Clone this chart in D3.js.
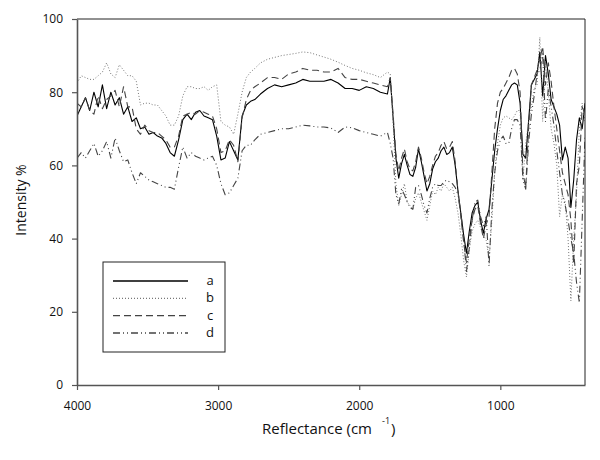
<!DOCTYPE html>
<html>
<head>
<meta charset="utf-8">
<script src="https://cdn.jsdelivr.net/npm/d3@7"></script>
<style>
  body { margin: 0; background: #fff; }
  text { font-family: "Open Sans", sans-serif; }
</style>
</head>
<body>
<svg width="600" height="460"></svg>
<script>
// wavenumbers (cm-1), shared by all four spectra
const wavenumbers = [
  4000, 3970, 3940, 3910, 3880, 3850, 3820, 3790, 3760, 3730,
  3700, 3670, 3640, 3610, 3580, 3550, 3520, 3490, 3460, 3430,
  3400, 3370, 3340, 3310, 3280, 3250, 3220, 3190, 3160, 3130,
  3100, 3070, 3040, 3010, 2980, 2950, 2920, 2890, 2860, 2830,
  2800, 2770, 2740,
  2700, 2650, 2600, 2550, 2500, 2450, 2400, 2350, 2300, 2250,
  2200, 2150, 2100, 2050, 2000, 1950, 1900, 1850, 1800,
  1780, 1760, 1740, 1720, 1700, 1680, 1660, 1640, 1620, 1600,
  1580, 1560, 1540, 1520, 1500, 1480, 1460, 1440, 1420, 1400,
  1380, 1360, 1340, 1320, 1300, 1280, 1260, 1240, 1220, 1200,
  1180, 1160, 1140, 1120, 1100, 1080, 1060, 1040, 1020, 1000,
  980, 960, 940, 920, 900, 880, 860, 840, 820, 800,
  780, 760, 740, 720, 700, 680, 660, 640, 620, 600,
  580, 560, 540, 520, 500, 480, 460, 440, 420, 400
];

const seriesA = [
  73.5, 76, 78.5, 75, 80, 76, 82, 75.5, 80, 76.5,
  78.5, 74, 76, 72, 73, 70, 70.5, 68.5, 69, 68,
  67.5, 66, 63.5, 62.5, 67, 72.5, 74, 72.5, 74.5, 75,
  73.5, 73, 72.5, 68, 61.5, 62, 66.5, 64, 61.5, 73.5,
  76.5, 77.5, 78,
  79.5, 81, 82, 81.5, 82, 82.5, 83.5, 83, 83, 83,
  83.5, 82.5, 81, 81, 80.5, 81.5, 81, 80, 79.5,
  84, 73, 62, 56.5, 60.5, 63, 60, 57.5, 57, 59.5,
  64.5, 61, 57, 53, 55, 59, 61, 62, 64, 65,
  63, 63.5, 65, 60, 53, 47, 41, 36, 42, 47,
  49, 50, 45, 41.5, 45.5, 48, 56, 64, 70, 75,
  78, 79, 80.5, 82, 82.5, 82, 77, 63, 62, 72,
  82, 83.5, 85, 91, 79, 90, 85, 78, 76, 74,
  71, 61.5, 65, 62, 48.5, 56, 67, 73, 70, 77
];

const seriesB = [
  82.5, 84.5, 84, 83.5, 83.5, 84.5, 85.5, 88, 85, 84,
  87.5, 86, 84.5, 84.5, 83, 76.5, 77, 77, 76.5, 76.5,
  75, 73.5, 71, 71, 73.5, 79, 81.5, 81.5, 81, 81,
  81.5, 80.5, 81.5, 82, 72, 71, 70.5, 68.5, 74, 80,
  84, 85.5, 86.5,
  88, 89, 89.5, 90, 90.3, 90.6, 91, 90.8, 90.2, 89.6,
  89, 88.2, 87.3, 86.5, 86, 85.3, 84.8, 84, 85.5,
  85, 72, 55, 49, 52, 55, 50, 49, 48, 51,
  52.5, 50, 47.5, 45, 49, 53, 52, 54, 53, 55,
  54, 53, 54, 51, 47, 41, 34, 29.5, 37, 42,
  44, 45, 43, 41, 39.5, 34.5, 45, 58, 66, 71,
  73, 73.5, 73, 72.5, 73.5, 75, 75, 56, 66, 72,
  76, 81, 82, 95, 72, 88.5, 80, 70, 66, 60,
  46, 52, 50, 40, 23, 40, 52, 70, 77, 72
];

const seriesC = [
  77, 76, 78.5, 75, 74, 79, 75.5, 78, 79, 80.5,
  76, 81.5, 76, 76, 70, 68.5, 71, 69.5, 69, 69,
  68, 67, 65, 65, 68, 73.5, 74, 74.5, 74, 75,
  74.5, 74, 73.5, 70, 63.5, 64, 67, 65.5, 61, 73,
  78, 80.5, 81.5,
  82.5, 84, 84, 83.5, 85, 85.5, 86.5, 86, 86, 85.5,
  85.5, 86.5, 84, 83.5, 83.5, 83, 82.5, 82, 81.5,
  84, 74, 63, 58.5, 62, 64.5, 61, 59, 58.5, 61,
  65, 62, 58, 55, 57, 60, 62.5, 63.5, 65.5, 66.5,
  64.5, 65, 66.5, 61, 53, 46, 39, 33.5, 40, 45,
  48, 49, 44, 40, 44, 46, 58, 70, 77, 80,
  81, 82.5, 84, 86, 86.5, 85, 80, 58, 54, 70,
  82, 84, 86, 89, 92.5, 82, 88, 83, 76, 70,
  64, 58, 55, 52, 45, 33, 55, 60, 76, 74
];

const seriesD = [
  62, 63.5, 62, 64, 66, 62.5, 64, 66.5, 62, 67.5,
  64, 61, 61.5, 58, 55, 58, 57, 56, 55.5, 55,
  54.5, 54, 54, 53.5, 59.5, 65, 62, 63.5, 62.5, 62,
  61.5, 62, 62.5, 60, 55, 52, 52.5, 54.5, 56.5, 64,
  65.5, 65.5, 67,
  68.5, 69, 69.5, 70, 70, 70.5, 71, 70.8, 70.5, 70.5,
  70.2, 69, 70.5, 70.3, 69.5, 69, 68.5, 68, 69,
  66, 62, 52, 49.5, 53.5, 52, 50, 48.5, 48, 54,
  54.5, 52, 49, 47, 51, 54, 55, 54.5, 54.5, 55.5,
  56, 55.5, 55, 54, 52, 47, 40, 31, 37.5, 45,
  50, 50.5, 46, 43.5, 46, 32.5, 48, 58, 64, 67,
  68, 66, 66, 70, 72.5, 72.5, 71, 56, 53.5, 66,
  74, 79, 85, 86, 90.5, 72, 81, 76, 71, 64,
  58, 52, 49, 45, 40, 36, 28, 22.5, 45, 68
];

const seriesNames = ["a", "b", "c", "d"];
const xTicks = [4000, 3000, 2000, 1000];
const yTicks = [0, 20, 40, 60, 80, 100];

const series = [
  { name: "a", values: seriesA, color: "#000", dash: null, w: 1.1 },
  { name: "b", values: seriesB, color: "#777", dash: "1,2", w: 1 },
  { name: "c", values: seriesC, color: "#444", dash: "7,4", w: 1.1 },
  { name: "d", values: seriesD, color: "#444", dash: "7,3,1,3,1,3", w: 1.1 }
];

const svg = d3.select("svg");
const plotLeft = 77, plotRight = 585, plotTop = 19, plotBottom = 385;

const x = d3.scaleLinear().domain([4000, 400]).range([plotLeft, plotRight]);
const y = d3.scaleLinear().domain([0, 100]).range([plotBottom, plotTop]);

svg.append("clipPath").attr("id", "plotclip")
  .append("rect")
  .attr("x", plotLeft).attr("y", plotTop)
  .attr("width", plotRight - plotLeft).attr("height", plotBottom - plotTop);

const line = d3.line()
  .x((d, i) => x(wavenumbers[i]))
  .y(d => y(d));

const plot = svg.append("g").attr("clip-path", "url(#plotclip)");
series.forEach(s => {
  plot.append("path")
    .datum(s.values)
    .attr("d", line)
    .attr("fill", "none")
    .attr("stroke", s.color)
    .attr("stroke-width", s.w)
    .attr("stroke-dasharray", s.dash)
    .attr("stroke-linejoin", "round");
});

// frame: top and right
svg.append("line").attr("x1", plotLeft).attr("x2", plotRight).attr("y1", plotTop).attr("y2", plotTop)
  .attr("stroke", "#222").attr("stroke-width", 1);
svg.append("line").attr("x1", plotRight).attr("x2", plotRight).attr("y1", plotTop).attr("y2", plotBottom)
  .attr("stroke", "#222").attr("stroke-width", 1);

// axes
const yAxis = svg.append("g")
  .attr("transform", `translate(${plotLeft},0)`)
  .call(d3.axisLeft(y).tickValues(yTicks).tickSize(5).tickPadding(9).tickSizeOuter(0));
const xAxis = svg.append("g")
  .attr("transform", `translate(0,${plotBottom})`)
  .call(d3.axisBottom(x).tickValues(xTicks).tickSize(5).tickPadding(11).tickSizeOuter(0)
    .tickFormat(d3.format("d")));

[xAxis, yAxis].forEach(g => {
  g.select(".domain").attr("stroke", "#555").attr("stroke-width", 1.6);
  g.selectAll(".tick line").attr("stroke", "#555").attr("stroke-width", 1.2);
  g.selectAll(".tick text").attr("font-size", "12px").attr("fill", "#111")
    .attr("font-family", "'Open Sans', sans-serif");
});

// axis titles
svg.append("text")
  .attr("transform", "translate(26,200) rotate(-90)")
  .attr("text-anchor", "middle")
  .attr("font-size", "14px")
  .attr("fill", "#111")
  .text("Intensity %");

const xt = svg.append("text")
  .attr("x", 262).attr("y", 434)
  .attr("font-size", "15px")
  .attr("fill", "#111")
  .text("Reflectance (cm");
const xtLen = xt.node().getComputedTextLength();
svg.append("text")
  .attr("x", 262 + xtLen + 10).attr("y", 424)
  .attr("font-size", "9px")
  .attr("fill", "#111")
  .text("-1");
svg.append("text")
  .attr("x", 262 + xtLen + 19).attr("y", 434)
  .attr("font-size", "15px")
  .attr("fill", "#111")
  .text(")");

// legend
const legend = svg.append("g");
legend.append("rect")
  .attr("x", 103).attr("y", 262).attr("width", 122).attr("height", 90)
  .attr("fill", "#fff").attr("stroke", "#222").attr("stroke-width", 1);
const rowY = d3.scalePoint().domain(seriesNames).range([281, 333]);
series.forEach(s => {
  legend.append("line")
    .attr("x1", 113).attr("x2", 188)
    .attr("y1", rowY(s.name)).attr("y2", rowY(s.name))
    .attr("stroke", s.color)
    .attr("stroke-width", s.w + 0.2)
    .attr("stroke-dasharray", s.dash);
  legend.append("text")
    .attr("x", 210).attr("y", rowY(s.name) + 4)
    .attr("text-anchor", "middle")
    .attr("font-size", "13px")
    .attr("fill", "#111")
    .text(s.name);
});
</script>
</body>
</html>
